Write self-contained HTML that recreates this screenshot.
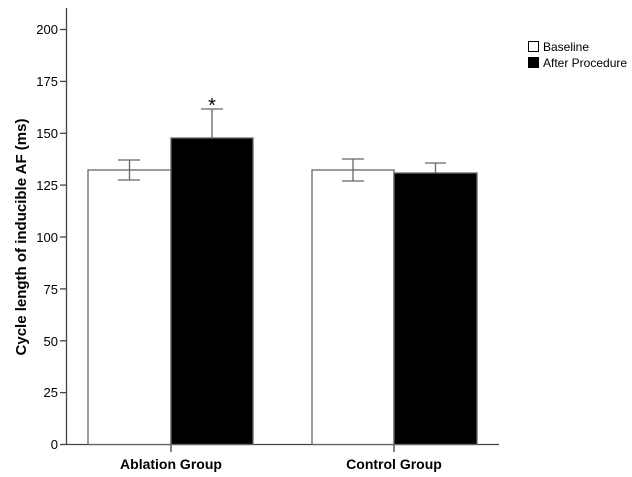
<!DOCTYPE html>
<html><head><style>body{margin:0;background:#fff}svg{display:block}</style></head><body>
<svg width="632" height="477" xmlns="http://www.w3.org/2000/svg" font-family="Liberation Sans, Arial, sans-serif">
<rect width="632" height="477" fill="#fff"/>
<g stroke="#444" stroke-width="1.3" fill="none">
<line x1="66.5" y1="8" x2="66.5" y2="444.5"/>
<line x1="66" y1="444.5" x2="499" y2="444.5"/>
<line x1="60" y1="29.5" x2="66" y2="29.5"/>
<line x1="60" y1="81.4" x2="66" y2="81.4"/>
<line x1="60" y1="133.3" x2="66" y2="133.3"/>
<line x1="60" y1="185.1" x2="66" y2="185.1"/>
<line x1="60" y1="237" x2="66" y2="237"/>
<line x1="60" y1="288.9" x2="66" y2="288.9"/>
<line x1="60" y1="340.8" x2="66" y2="340.8"/>
<line x1="60" y1="392.6" x2="66" y2="392.6"/>
<line x1="60" y1="444.5" x2="66" y2="444.5"/>
<line x1="171" y1="444" x2="171" y2="452"/>
<line x1="394" y1="444" x2="394" y2="452"/>
</g>
<g font-size="13" text-anchor="end" fill="#000">
<text x="58" y="34">200</text><text x="58" y="86">175</text><text x="58" y="138">150</text>
<text x="58" y="190">125</text><text x="58" y="242">100</text><text x="58" y="294">75</text>
<text x="58" y="346">50</text><text x="58" y="397">25</text><text x="58" y="449">0</text>
</g>
<text transform="translate(26,237) rotate(-90)" font-size="15" font-weight="bold" text-anchor="middle">Cycle length of inducible AF (ms)</text>
<g stroke="#666" stroke-width="1.3">
<rect x="88" y="170" width="83" height="274.5" fill="#fff"/>
<rect x="171" y="138" width="82" height="306.5" fill="#000"/>
<rect x="312" y="170" width="82" height="274.5" fill="#fff"/>
<rect x="394" y="173" width="83" height="271.5" fill="#000"/>
<line x1="129.5" y1="160" x2="129.5" y2="180"/><line x1="118" y1="160" x2="140" y2="160"/><line x1="118" y1="180" x2="140" y2="180"/>
<line x1="212" y1="109" x2="212" y2="138"/><line x1="201" y1="109" x2="223" y2="109"/>
<line x1="353" y1="159" x2="353" y2="181"/><line x1="342" y1="159" x2="364" y2="159"/><line x1="342" y1="181" x2="364" y2="181"/>
<line x1="435.5" y1="163" x2="435.5" y2="173"/><line x1="425" y1="163" x2="446" y2="163"/>
</g>
<text x="212" y="112" font-size="20" text-anchor="middle">*</text>
<g font-size="14" font-weight="bold" text-anchor="middle">
<text x="171" y="469">Ablation Group</text><text x="394" y="469">Control Group</text>
</g>
<rect x="528.5" y="41.5" width="10" height="10" fill="#fff" stroke="#000"/>
<rect x="528" y="57" width="11" height="11" fill="#000"/>
<g font-size="12"><text x="543" y="51">Baseline</text><text x="543" y="67">After Procedure</text></g>
</svg>
</body></html>
